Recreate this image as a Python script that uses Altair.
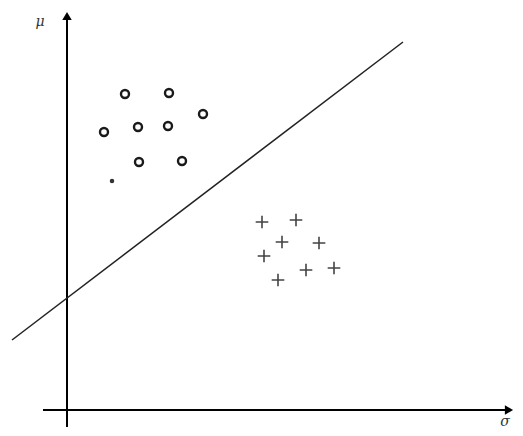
import altair as alt
import pandas as pd

# schematic coordinates (sigma, mu), origin at the axes crossing
circle_sigma = [58, 102, 136, 37, 71, 101, 72, 115]
circle_mu = [316, 317, 296, 278, 283, 284, 248, 249]
dot_sigma = [45]
dot_mu = [229]
plus_sigma = [195, 229, 215, 252, 197, 239, 267, 211]
plus_mu = [188, 190, 168, 167, 154, 140, 142, 130]
line_sigma = [-55, 336]
line_mu = [70, 368]
vaxis_sigma = [0, 0]
vaxis_mu = [-17, 390]
haxis_sigma = [-24, 440]
haxis_mu = [0, 0]
axis_labels = ["μ", "σ"]
label_sigma = [-27, 438]
label_mu = [388, -12]

xs = alt.Scale(domain=[-59, 448])
ys = alt.Scale(domain=[-18, 402])

def X(field="s"):
    return alt.X(f"{field}:Q", scale=xs, axis=None)

def Y(field="m"):
    return alt.Y(f"{field}:Q", scale=ys, axis=None)

circles = alt.Chart(pd.DataFrame({"s": circle_sigma, "m": circle_mu})).mark_point(
    shape="circle", filled=False, size=64, strokeWidth=2.4, color="#1a1a1a", opacity=1
).encode(x=X(), y=Y())

dot = alt.Chart(pd.DataFrame({"s": dot_sigma, "m": dot_mu})).mark_point(
    shape="circle", filled=True, size=20, color="#333", opacity=1
).encode(x=X(), y=Y())

plus = alt.Chart(pd.DataFrame({"s": plus_sigma, "m": plus_mu})).mark_point(
    shape="M-1,0H1M0,-1V1", filled=False, size=160, strokeWidth=1.6, color="#444", opacity=1
).encode(x=X(), y=Y())

line = alt.Chart(pd.DataFrame({"s": line_sigma, "m": line_mu})).mark_line(
    color="#222", strokeWidth=1.5
).encode(x=X(), y=Y())

vaxis = alt.Chart(pd.DataFrame({"s": vaxis_sigma, "m": vaxis_mu})).mark_line(
    color="#000", strokeWidth=2
).encode(x=X(), y=Y())

haxis = alt.Chart(pd.DataFrame({"s": haxis_sigma, "m": haxis_mu})).mark_line(
    color="#000", strokeWidth=2
).encode(x=X(), y=Y())

arrow_up = alt.Chart(pd.DataFrame({"s": [0], "m": [394]})).mark_point(
    shape="triangle-up", filled=True, size=90, color="#000", opacity=1
).encode(x=X(), y=Y())

arrow_right = alt.Chart(pd.DataFrame({"s": [442], "m": [0]})).mark_point(
    shape="triangle-right", filled=True, size=90, color="#000", opacity=1
).encode(x=X(), y=Y())

labels = alt.Chart(pd.DataFrame({"s": label_sigma, "m": label_mu, "t": axis_labels})).mark_text(
    font="DejaVu Serif", fontStyle="italic", fontSize=14, color="#333"
).encode(x=X(), y=Y(), text="t:N")

chart = alt.layer(vaxis, haxis, arrow_up, arrow_right, line, circles, dot, plus, labels).properties(
    width=507, height=420,
    autosize=alt.AutoSizeParams(type="none"),
    padding=0,
).configure_view(stroke=None)

chart.save("out.html", embed_options={"renderer": "svg", "actions": False})
